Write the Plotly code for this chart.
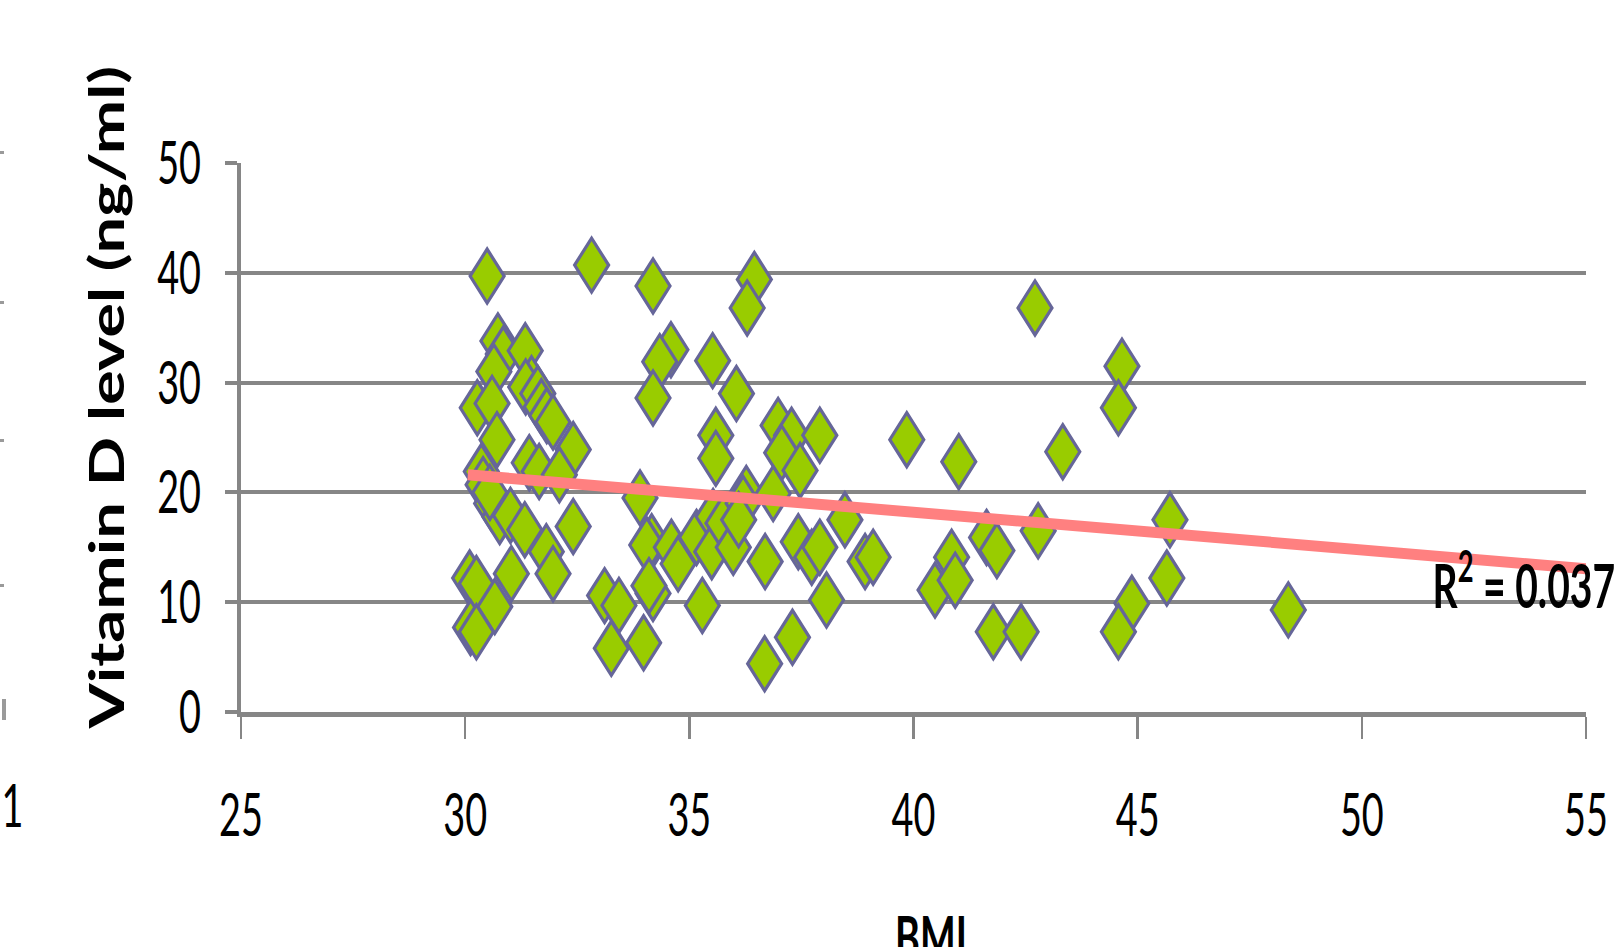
import plotly.graph_objects as go

# BMI vs serum vitamin D, one diamond per subject
bmi = [
    30.49, 30.73, 30.85, 31.34, 30.64, 31.48, 31.35, 31.62, 31.70, 31.82,
    31.96, 32.41, 30.27, 30.60, 30.71, 30.36, 31.43, 31.65, 32.10, 30.40,
    30.59, 30.77, 31.01, 31.33, 31.81, 31.96, 32.41, 30.10, 30.25, 31.03,
    30.66, 30.12, 30.25, 32.82, 30.55,
    34.19, 34.59, 34.34, 35.52, 34.19, 36.05, 35.59, 35.59, 33.90, 36.27,
    34.16, 34.05, 34.60, 34.75, 35.16, 35.53, 35.50, 35.75, 35.98, 36.20,
    36.10, 33.11, 33.43, 34.19, 34.10, 35.29, 33.26, 33.98, 36.45, 36.29,
    36.98, 37.28, 37.91, 37.06, 37.47, 36.87, 38.47, 37.43, 37.73, 37.91,
    36.69, 38.92, 39.10, 38.06, 37.30, 36.68, 39.85,
    41.01, 41.63, 41.86, 40.85, 40.48, 40.93, 41.78, 42.40, 42.71, 44.65,
    44.57, 43.33, 42.78, 45.72, 45.65, 44.87, 44.57, 48.36,
]
vitd = [
    39.7, 33.8, 32.6, 32.9, 31.0, 29.9, 29.6, 29.0, 27.8, 27.0,
    26.4, 23.9, 27.7, 28.1, 24.8, 21.9, 22.7, 21.9, 21.6, 20.7,
    19.0, 17.8, 17.9, 16.6, 14.6, 12.6, 16.9, 12.2, 11.7, 12.6,
    9.6, 7.7, 7.3, 40.7, 20.0,
    38.8, 33.0, 31.9, 32.0, 28.6, 29.0, 25.2, 23.1, 19.5, 19.9,
    15.5, 15.2, 15.0, 13.5, 15.9, 17.8, 14.6, 17.2, 15.0, 19.0,
    17.5, 10.6, 9.7, 10.8, 11.5, 9.7, 5.8, 6.3, 39.4, 36.8,
    26.1, 25.2, 25.2, 23.6, 22.0, 19.9, 17.5, 15.5, 14.1, 15.0,
    13.7, 13.7, 14.1, 10.2, 6.8, 4.4, 24.8,
    22.8, 15.9, 14.7, 14.1, 11.1, 12.0, 7.3, 7.3, 36.8, 31.5,
    27.7, 23.7, 16.5, 17.5, 12.2, 9.9, 7.3, 9.3,
]

# linear trend line end points and its goodness of fit
trend_bmi = [30.06, 55.0]
trend_vitd = [21.6, 13.05]
r2_text = "R<sup>2</sup> = 0.037"

x_ticks = [25, 30, 35, 40, 45, 50, 55]
y_ticks = [0, 10, 20, 30, 40, 50]

W, H = 1616, 947
ML, MR, MT, MB = 241, 30, 163, 235
PW, PH = W - ML - MR, H - MT - MB


def px_x(px):
    return (px - ML) / PW


def px_y(py):
    return (H - MB - py) / PH


GRID = "#868686"
FONT = "Lato"

fig = go.Figure()
fig.add_trace(go.Scatter(
    x=bmi, y=vitd, mode="markers",
    marker=dict(symbol="diamond", size=41.5, color="#99CC00",
                line=dict(color="#666699", width=3.2)),
    showlegend=False, hoverinfo="skip",
))
fig.add_trace(go.Scatter(
    x=trend_bmi, y=trend_vitd, mode="lines",
    line=dict(color="#FF8080", width=11),
    showlegend=False, hoverinfo="skip",
))

annotations = [
    dict(text="Vitamin D level (ng/ml)", textangle=-90,
         x=px_x(106), y=px_y(397.5), xanchor="center", yanchor="middle",
         font=dict(family=FONT, size=65, color="black", weight="bold")),
    dict(text="BMI", x=px_x(931), y=px_y(936), xanchor="center", yanchor="middle",
         font=dict(family=FONT, size=60, color="black", weight="bold")),
    dict(text=r2_text, x=px_x(1524), y=px_y(580), xanchor="center", yanchor="middle",
         font=dict(family=FONT, size=62, color="black", weight="bold")),
    dict(text="1", x=px_x(12), y=px_y(804), xanchor="center", yanchor="middle",
         font=dict(family=FONT, size=60, color="black")),
]
for a in annotations:
    a.update(xref="paper", yref="paper", showarrow=False)

# small tick remnants along the left edge
shapes = []
for y0, y1, x0, x1 in [(151, 154, 0, 4), (301, 304, 0, 4), (439, 442, 0, 4),
                       (584, 587, 0, 4), (699, 720, 2, 6)]:
    shapes.append(dict(type="rect", xref="paper", yref="paper",
                       x0=px_x(x0), x1=px_x(x1), y0=px_y(y1), y1=px_y(y0),
                       fillcolor="#9a9a9a", line=dict(width=0), layer="above"))

fig.update_layout(
    width=W, height=H, autosize=False,
    margin=dict(l=ML, r=MR, t=MT, b=MB, pad=0, autoexpand=False),
    paper_bgcolor="white", plot_bgcolor="white",
    annotations=annotations, shapes=shapes,
    xaxis=dict(range=[25, 55], tickvals=x_ticks, showgrid=False, zeroline=False,
               automargin=False,
               ticks="outside", ticklen=22, tickwidth=2.5, tickcolor=GRID,
               showline=True, linecolor=GRID, linewidth=5,
               ticklabelstandoff=25, ticklabeloverflow="allow",
               tickfont=dict(family=FONT, size=60, color="black")),
    yaxis=dict(range=[0, 50], tickvals=y_ticks, showgrid=True, gridcolor=GRID,
               gridwidth=4, zeroline=False, automargin=False,
               ticks="outside", ticklen=12, tickwidth=4, tickcolor=GRID,
               showline=True, linecolor=GRID, linewidth=4,
               ticklabelstandoff=12, ticklabeloverflow="allow",
               tickfont=dict(family=FONT, size=60, color="black")),
)

# narrow text and markers horizontally on screen, each around its own anchor
squeeze_js = """
var gd = document.getElementById('{plot_id}');
var NS = 'http://www.w3.org/2000/svg';
var SX = 0.63, SX_ROT = 0.72;
gd.querySelectorAll('svg.main-svg text').forEach(function(t){
  var r = t.getBoundingClientRect();
  if (!r.width) return;
  var par = t.parentNode;
  var svg = t.ownerSVGElement;
  var M = par.getScreenCTM();
  var rotated = Math.abs(M.b) > 1e-6 || Math.abs(M.c) > 1e-6;
  var anchor = t.getAttribute('text-anchor') || 'start';
  var sx = rotated ? SX_ROT : SX;
  var ax = r.left + r.width / 2;
  if (!rotated && anchor === 'end') ax = r.right;
  if (!rotated && anchor === 'start') ax = r.left;
  var S = svg.createSVGMatrix();
  S.a = sx; S.e = ax * (1 - sx);
  var L = M.inverse().multiply(S).multiply(M);
  var g = document.createElementNS(NS, 'g');
  g.setAttribute('transform', 'matrix(' + [L.a, L.b, L.c, L.d, L.e, L.f].join(' ') + ')');
  par.insertBefore(g, t);
  g.appendChild(t);
});
gd.querySelectorAll('path.point').forEach(function(p){
  var tr = p.getAttribute('transform') || '';
  p.setAttribute('transform', tr + ' scale(' + SX + ' 1)');
  p.style.vectorEffect = 'non-scaling-stroke';
});
"""

fig.write_html("out.html", config=dict(staticPlot=True, displayModeBar=False),
               post_script=squeeze_js)
